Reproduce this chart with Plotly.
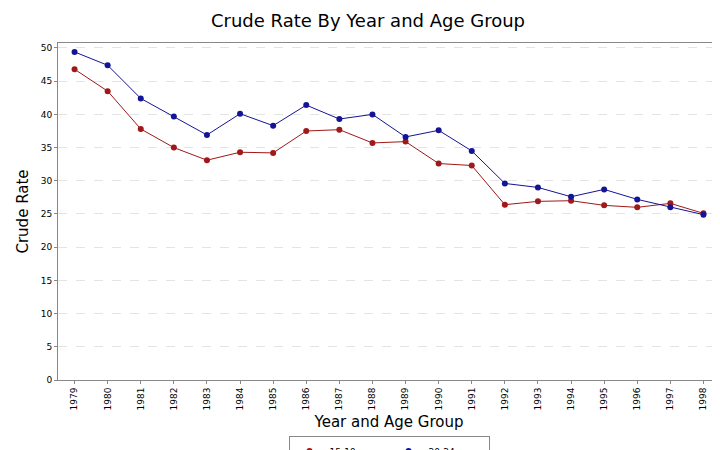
import plotly.graph_objects as go

years = [str(y) for y in range(1979, 1999)]
teen = [46.8, 43.5, 37.8, 35.0, 33.1, 34.3, 34.2, 37.5, 37.7, 35.7, 35.9, 32.6, 32.3, 26.4, 26.9, 27.0, 26.3, 26.0, 26.6, 25.1]
young = [49.4, 47.4, 42.4, 39.7, 36.9, 40.1, 38.3, 41.4, 39.3, 40.0, 36.6, 37.6, 34.5, 29.6, 29.0, 27.6, 28.7, 27.2, 26.0, 24.9]

fig = go.Figure()
fig.add_trace(go.Scatter(x=years, y=teen, name="15-19 years", mode="lines+markers",
                         line=dict(color="#a01818", width=1), marker=dict(size=6, color="#a01818")))
fig.add_trace(go.Scatter(x=years, y=young, name="20-24 years", mode="lines+markers",
                         line=dict(color="#141496", width=1), marker=dict(size=6, color="#141496")))
fig.update_layout(
    width=720, height=450, plot_bgcolor="white", paper_bgcolor="white",
    font=dict(family="DejaVu Sans", size=10, color="black"),
    title=dict(text="Crude Rate By Year and Age Group", x=0.5, y=0.985, yanchor="top", xanchor="center",
               font=dict(size=18)),
    margin=dict(l=50, r=8, t=35, b=78, autoexpand=False),
    legend=dict(orientation="h", x=0.5, xanchor="center", y=-0.165, yanchor="top",
                bordercolor="#888", borderwidth=1, font=dict(size=9), itemwidth=30,
                tracegroupgap=0),
    xaxis=dict(title=dict(text="Year and Age Group", font=dict(size=15), standoff=6),
               tickangle=-90, showline=True, mirror=True, linecolor="#888", ticks="outside",
               ticklen=3, tickcolor="#888", range=[-0.5, 19.5], tickfont=dict(size=9),
               automargin=False),
    yaxis=dict(title=dict(text="Crude Rate", font=dict(size=15), standoff=8), range=[0, 50.75], dtick=5,
               showline=True, mirror=True, linecolor="#888", ticks="outside", ticklen=3,
               tickcolor="#888", gridcolor="#e4e4e4", griddash="dash", zeroline=False,
               tickfont=dict(size=9), automargin=False),
)
fig.write_html("out.html")
